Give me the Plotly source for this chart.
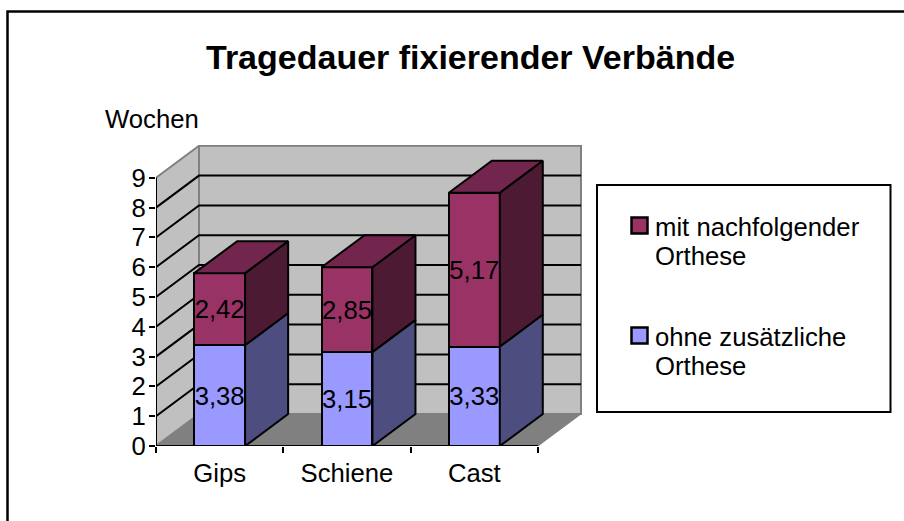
import plotly.graph_objects as go

# data
categories = ['Gips', 'Schiene', 'Cast']
ohne_orthese = [3.38, 3.15, 3.33]
mit_orthese = [2.42, 2.85, 5.17]
ohne_labels = ['3,38', '3,15', '3,33']
mit_labels = ['2,42', '2,85', '5,17']
y_ticks = [0, 1, 2, 3, 4, 5, 6, 7, 8, 9]
legend_mit = ['mit nachfolgender', 'Orthese']
legend_ohne = ['ohne zusätzliche', 'Orthese']

W, H = 904, 521
FONT = 'Liberation Sans'
FS = 25.7
LW = 2

# plot box in pixels: front axis corner to back wall corner
PX_L, PX_R, PX_T, PX_B = 156, 582, 145, 446
CAT_W = 127.33   # px per category
UNIT_H = 29.8    # px per week
x_lo = -0.5
x_hi = x_lo + (PX_R - PX_L) / CAT_W
y_hi = (PX_B - PX_T) / UNIT_H
x_front_end = x_lo + len(categories)
# oblique offset of the 3D look, in axis units
dx = 43 / CAT_W
dy = 32 / UNIT_H
BAR_W = 0.4

C_MIT, C_MIT_TOP, C_MIT_SIDE = '#993366', '#73264d', '#4d1a33'
C_OHNE, C_OHNE_SIDE = '#9999ff', '#4d4d80'
C_WALL, C_FLOOR, C_EDGE = '#c0c0c0', '#808080', '#808080'


def poly(xs, ys):
    path = 'M' + 'L'.join(f'{a},{b}' for a, b in zip(xs, ys)) + 'Z'
    return path


def px_x(p):
    return (p - PX_L) / (PX_R - PX_L)


def px_y(p):
    return (PX_B - p) / (PX_B - PX_T)


def side_face(i, base, top, color):
    x1 = i + BAR_W / 2
    return go.Scatter(x=[x1, x1 + dx, x1 + dx, x1, x1], y=[base, base + dy, top + dy, top, base],
                      mode='lines', fill='toself', fillcolor=color,
                      line=dict(color='black', width=LW), showlegend=False, hoverinfo='skip')


def top_face(i, top, color):
    x0, x1 = i - BAR_W / 2, i + BAR_W / 2
    return go.Scatter(x=[x0, x0 + dx, x1 + dx, x1, x0], y=[top, top + dy, top + dy, top, top],
                      mode='lines', fill='toself', fillcolor=color,
                      line=dict(color='black', width=LW), showlegend=False, hoverinfo='skip')


fig = go.Figure()

fig.add_trace(go.Bar(x=[0, 1, 2], y=ohne_orthese, name=' '.join(legend_ohne), width=BAR_W,
                     marker=dict(color=C_OHNE, line=dict(color='black', width=LW)),
                     text=ohne_labels, textposition='inside', insidetextanchor='middle', textangle=0,
                     constraintext='none', textfont=dict(family=FONT, size=FS, color='black'), showlegend=False))
fig.add_trace(go.Bar(x=[0, 1, 2], y=mit_orthese, name=' '.join(legend_mit), width=BAR_W,
                     marker=dict(color=C_MIT, line=dict(color='black', width=LW)),
                     text=mit_labels, textposition='inside', insidetextanchor='middle', textangle=0,
                     constraintext='none', textfont=dict(family=FONT, size=FS, color='black'), showlegend=False))

for i in range(len(categories)):
    total = ohne_orthese[i] + mit_orthese[i]
    fig.add_trace(side_face(i, ohne_orthese[i], total, C_MIT_SIDE))
    fig.add_trace(side_face(i, 0, ohne_orthese[i], C_OHNE_SIDE))
    fig.add_trace(top_face(i, total, C_MIT_TOP))

# axis lines stop at the last tick, so they are drawn as traces
fig.add_trace(go.Scatter(x=[x_lo, x_lo], y=[0, y_ticks[-1]], mode='lines',
                         line=dict(color='black', width=LW), showlegend=False, hoverinfo='skip', cliponaxis=False))
fig.add_trace(go.Scatter(x=[x_lo, x_front_end], y=[0, 0], mode='lines',
                         line=dict(color='black', width=LW), showlegend=False, hoverinfo='skip', cliponaxis=False))

shapes = []
# outer frame, runs off the right and bottom of the picture
shapes.append(dict(type='rect', xref='paper', yref='paper', layer='below',
                   x0=px_x(7.5), x1=px_x(930), y0=px_y(540), y1=px_y(11.5),
                   line=dict(color='black', width=2.5), fillcolor='white'))
# side wall, back wall, floor
y_top = y_ticks[-1]
shapes.append(dict(type='path', xref='x', yref='y', layer='below',
                   path=poly([x_lo, x_lo + dx, x_lo + dx, x_lo], [0, dy, y_top + dy, y_top]),
                   fillcolor=C_WALL, line=dict(color=C_EDGE, width=LW)))
shapes.append(dict(type='path', xref='x', yref='y', layer='below',
                   path=poly([x_lo + dx, x_front_end + dx, x_front_end + dx, x_lo + dx],
                             [dy, dy, y_top + dy, y_top + dy]),
                   fillcolor=C_WALL, line=dict(color=C_EDGE, width=LW)))
shapes.append(dict(type='path', xref='x', yref='y', layer='below',
                   path=poly([x_lo, x_front_end, x_front_end + dx, x_lo + dx], [0, 0, dy, dy]),
                   fillcolor=C_FLOOR, line=dict(color=C_EDGE, width=1)))
# gridlines run over both walls
for v in y_ticks[1:-1]:
    shapes.append(dict(type='path', xref='x', yref='y', layer='below',
                       path=f'M{x_lo},{v}L{x_lo + dx},{v + dy}L{x_front_end + dx},{v + dy}',
                       line=dict(color='black', width=LW)))

# legend drawn by hand: Excel's box and swatches are much bigger than plotly's
shapes.append(dict(type='rect', xref='paper', yref='paper', x0=px_x(597), x1=px_x(890.5),
                   y0=px_y(412), y1=px_y(185), line=dict(color='black', width=2), fillcolor='white'))
shapes.append(dict(type='rect', xref='paper', yref='paper', x0=px_x(631.5), x1=px_x(647.5),
                   y0=px_y(233.5), y1=px_y(217.5), line=dict(color='black', width=2.5), fillcolor=C_MIT))
shapes.append(dict(type='rect', xref='paper', yref='paper', x0=px_x(631.5), x1=px_x(647.5),
                   y0=px_y(343.5), y1=px_y(327.5), line=dict(color='black', width=2.5), fillcolor=C_OHNE))

annotations = [
    dict(text='<b>Tragedauer fixierender Verbände</b>', xref='paper', yref='paper', x=px_x(470.5), y=px_y(57),
         xanchor='center', yanchor='middle', showarrow=False, font=dict(family=FONT, size=34, color='black')),
    dict(text='Wochen', xref='paper', yref='paper', x=px_x(152), y=px_y(119),
         xanchor='center', yanchor='middle', showarrow=False, font=dict(family=FONT, size=FS, color='black')),
]
for lines, y0 in [(legend_mit, 227), (legend_ohne, 337)]:
    for n, line in enumerate(lines):
        annotations.append(dict(text=line, xref='paper', yref='paper', x=px_x(653), y=px_y(y0 + n * 29.3),
                                xanchor='left', yanchor='middle', showarrow=False,
                                font=dict(family=FONT, size=FS, color='black')))

fig.update_layout(
    width=W, height=H,
    margin=dict(l=PX_L, r=W - PX_R, t=PX_T, b=H - PX_B, pad=0),
    paper_bgcolor='white', plot_bgcolor='rgba(0,0,0,0)',
    barmode='stack', showlegend=False,
    font=dict(family=FONT, size=FS, color='black'),
    shapes=shapes, annotations=annotations,
    xaxis=dict(range=[x_lo, x_hi], showgrid=False, zeroline=False, showline=False,
               tickmode='array', tickvals=[0, 1, 2], ticktext=categories, ticks='',
               ticklabelstandoff=9,
               minor=dict(tickmode='array', tickvals=[-0.5, 0.5, 1.5, 2.5], ticks='outside', ticklen=6,
                          tickwidth=LW, tickcolor='black'),
               tickfont=dict(family=FONT, size=FS, color='black')),
    yaxis=dict(range=[0, y_hi], showgrid=False, zeroline=False, showline=False,
               tickmode='array', tickvals=y_ticks, ticks='outside', ticklen=6, tickwidth=LW, tickcolor='black',
               ticklabelstandoff=-2,
               tickfont=dict(family=FONT, size=FS, color='black')),
)

fig.write_html("out.html", config=dict(displayModeBar=False), post_script="document.body.style.margin='0';")
